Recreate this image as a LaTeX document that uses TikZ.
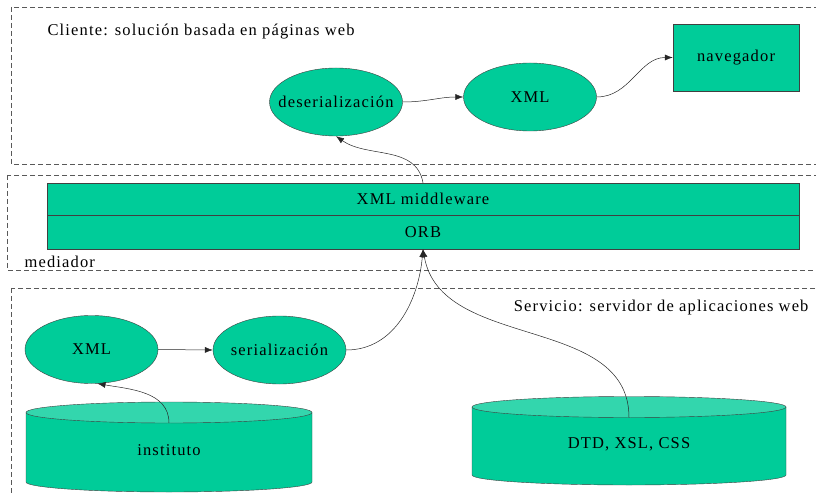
\documentclass[tikz,border=0pt]{standalone}
\usepackage{fontspec}
\setmainfont{Liberation Serif}[LetterSpace=7]
\usetikzlibrary{shapes.geometric,arrows.meta}

\definecolor{verde}{RGB}{0,204,153}
\definecolor{verdeclaro}{RGB}{51,214,173}

\begin{document}
\begin{tikzpicture}[x=1pt,y=1pt,
  font=\fontsize{16.5}{18}\selectfont,
  zona/.style={draw=black!65,dash pattern=on 5pt off 3pt,line width=0.7pt},
  elipse/.style={ellipse,draw=black!75,fill=verde,inner xsep=-12pt,inner ysep=0pt,minimum width=133pt,minimum height=68pt},
  bloque/.style={rectangle,draw=black!75,fill=verde,inner sep=0pt},
  flecha/.style={-{Latex[length=8pt,width=6pt]},black!85,line width=0.5pt}]
\useasboundingbox (0,0) rectangle (816,493);

% zonas
\draw[zona] (11,486) rectangle (830,329);
\draw[zona] (7,318) rectangle (830,223);
\draw[zona] (11,205) rectangle (830,-10);
\node[anchor=west] (cliente) at (44,461) {Cliente: solución basada en páginas web};
\node[anchor=west] (mediador) at (21,231) {mediador};
\node[anchor=east] (servicio) at (812,185) {Servicio: servidor de aplicaciones web};

% cliente
\node[elipse] (deser) at (336,391) {deserialización};
\node[elipse] (xmlc) at (530,396) {XML};
\node[bloque,minimum width=126pt,minimum height=67pt] (nav) at (736,435.5) {navegador};

% mediador
\node[bloque,minimum width=752pt,minimum height=32pt] (mw) at (423,294) {XML middleware};
\node[bloque,minimum width=752pt,minimum height=34pt] (orb) at (423,261) {ORB};

% servicio
\node[elipse] (xmlb) at (91.5,143.5) {XML};
\node[elipse] (serial) at (279.5,143) {serialización};

% bases de datos
\foreach \cx/\rx/\tp/\bt/\nom/\txt in {169/143/80.5/11/inst/instituto, 629/157/86/18/dtd/{DTD, XSL, CSS}} {
  \fill[verde] (\cx-\rx,\tp) -- (\cx-\rx,\bt) arc[start angle=180,end angle=360,x radius=\rx,y radius=10] -- (\cx+\rx,\tp) -- cycle;
  \draw[black!75] (\cx-\rx,\tp) -- (\cx-\rx,\bt) arc[start angle=180,end angle=360,x radius=\rx,y radius=10] -- (\cx+\rx,\tp);
  \draw[black!75,fill=verdeclaro] (\cx,\tp) ellipse[x radius=\rx,y radius=10.5];
  \coordinate (\nom) at (\cx,\tp-10.5);
  \node (\nom txt) at (\cx,{(\tp+\bt)/2-3}) {\txt};
}

% flechas
\draw[flecha] (deser.east) to[out=0,in=180] (xmlc.west);
\draw[flecha] (xmlc.east) to[out=0,in=180] (nav.west);
\draw[flecha] (mw.north) to[out=100,in=-35] (deser.south);
\draw[flecha] (xmlb.east) -- (serial.west);
\draw[flecha] (serial.east) to[out=0,in=-95] (orb.south);
\draw[flecha] (dtd) to[out=90,in=-80] (orb.south);
\draw[flecha] (inst) to[out=90,in=-10] (xmlb.-80);
\end{tikzpicture}
\end{document}
